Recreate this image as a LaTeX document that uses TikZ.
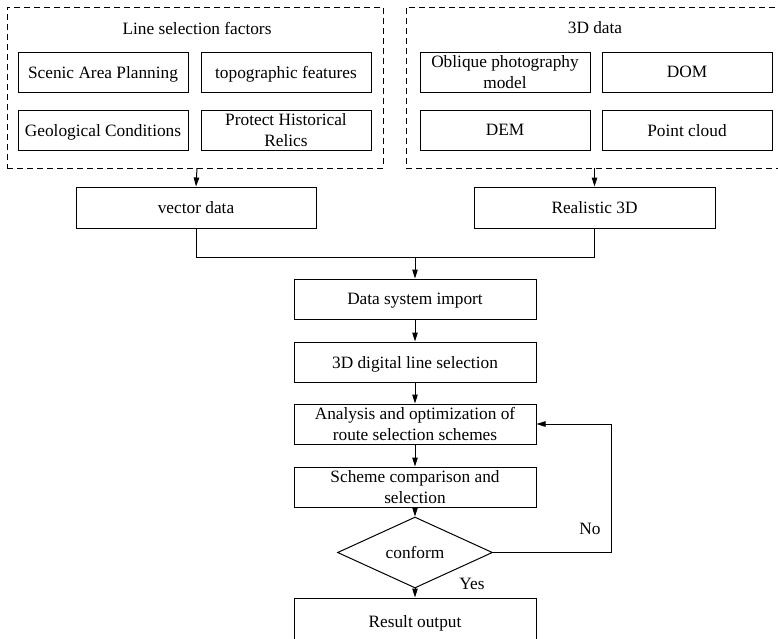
\documentclass[tikz,border=0pt]{standalone}
\usepackage{fontspec}
\setmainfont{Liberation Serif}
\usetikzlibrary{shapes.geometric,arrows.meta}
\begin{document}
\begin{tikzpicture}[x=1pt,y=-1pt,
  font=\fontsize{17.3}{21}\selectfont,
  box/.style={draw,line width=1pt,rectangle,inner sep=0pt,align=center,minimum width=#1,minimum height=40pt},
  box/.default=170pt,
  one/.style={text depth=0pt},
  grp/.style={draw,line width=0.9pt,dash pattern=on 6pt off 4pt,rectangle,inner sep=0pt},
  arr/.style={line width=1pt,-{Triangle[length=9pt,width=5.5pt]}},
  ln/.style={line width=1pt},
  lbl/.style={inner sep=0pt}]
\useasboundingbox (0,0) rectangle (778,638);
\clip (0,0) rectangle (778,638);
% groups
\node[grp,minimum width=376pt,minimum height=161pt] (gL) at (195,87.5) {};
\node[grp,minimum width=384pt,minimum height=161pt] (gR) at (598,87.5) {};
\node[lbl] (tL) at (197,28) {Line selection factors};
\node[lbl] (tR) at (595,28) {3D data};
\node[box,one] (scenic) at (103,72) {Scenic Area Planning};
\node[box,one] (topo) at (286,72) {topographic features};
\node[box,one] (geo) at (103,130) {Geological Conditions};
\node[box] (relic) at (286,130) {Protect Historical\\Relics};
\node[box] (obl) at (505,72) {Oblique photography\\model};
\node[box,one] (dom) at (687,72) {DOM};
\node[box,one] (dem) at (505,130) {DEM};
\node[box,one] (pc) at (687,130) {Point cloud};
% second row
\node[box=240pt,one,minimum height=41pt] (vec) at (196,207.5) {vector data};
\node[box=241pt,one,minimum height=41pt] (real) at (594.5,207.5) {Realistic 3D};
\coordinate (mL) at (196,257);
\coordinate (mR) at (594.5,257);
\coordinate (mC) at (415,257);
% main column
\node[box=242pt,one] (dsi) at (415,299) {Data system import};
\node[box=242pt,one] (dls) at (415,362) {3D digital line selection};
\node[box=242pt] (ana) at (415,424) {Analysis and optimization of\\route selection schemes};
\node[box=242pt] (sch) at (415,487) {Scheme comparison and\\selection};
\node[draw,line width=1pt,diamond,inner sep=0pt,minimum width=155pt,minimum height=47pt] (conf) at (415,552.5) {conform};
\node[box=242pt,one,minimum height=62pt] (res) at (415,629) {\raisebox{15pt}{Result output}};
\coordinate (fb) at (611,552.5);
% connectors
\draw[arr] (197,168) -- (vec.north);
\draw[arr] (594.5,168) -- (real.north);
\draw[ln] (vec.south) -- (mL) -- (mR) -- (real.south);
\draw[arr] (mC) -- (dsi.north);
\draw[arr] (dsi) -- (dls);
\draw[arr] (dls) -- (ana);
\draw[arr] (ana) -- (sch);
\draw[arr] (sch) -- (conf);
\draw[arr] (conf) -- (res);
\draw[arr] (conf.east) -- (fb) |- (ana.east);
\node[lbl] (no) at (590,529) {No};
\node[lbl] (yes) at (472,584) {Yes};
\end{tikzpicture}
\end{document}
